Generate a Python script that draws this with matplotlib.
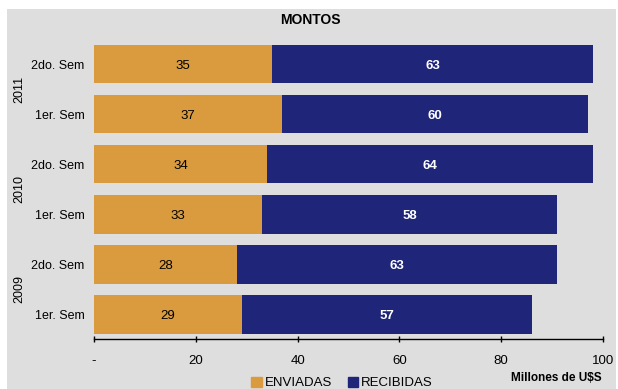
import matplotlib.pyplot as plt
import matplotlib.patches as mpatches
import numpy as np

plt.rcParams['font.family'] = ['Liberation Sans Narrow', 'Liberation Sans', 'DejaVu Sans']

# semesters from bottom (2009 1er) to top (2011 2do)
semestres = ['1er. Sem', '2do. Sem', '1er. Sem', '2do. Sem', '1er. Sem', '2do. Sem']
anios = ['2009', '2010', '2011']
enviadas = [29, 28, 33, 34, 37, 35]
recibidas = [57, 63, 58, 64, 60, 63]
xticks = [0, 20, 40, 60, 80, 100]
xticklabels = ['-', '20', '40', '60', '80', '100']

c_env = '#D99B3E'
c_rec = '#1F2679'
bg = '#DEDEDE'

fig = plt.figure(figsize=(6.18, 3.89), dpi=100)
fig.patch.set_facecolor('white')
# grey panel behind everything
fig.patches.append(mpatches.Rectangle((7/618, 0), 609/618, 380/389,
                                      transform=fig.transFigure,
                                      facecolor=bg, edgecolor='none', zorder=-1))

ax = fig.add_axes([94/618, 50/389, 509/618, 299/389])
ax.set_facecolor(bg)

y = np.arange(len(semestres))
ax.barh(y, enviadas, height=0.77, color=c_env)
ax.barh(y, recibidas, left=enviadas, height=0.77, color=c_rec)

for i in range(len(y)):
    ax.text(enviadas[i] / 2, y[i] - 0.03, str(enviadas[i]), ha='center', va='center',
            fontsize=9.5, color='black')
    ax.text(enviadas[i] + recibidas[i] / 2, y[i] - 0.03, str(recibidas[i]), ha='center',
            va='center', fontsize=9.5, color='white', fontweight='bold')

ax.set_xlim(0, 100)
ax.set_ylim(-0.49, 5.48)
ax.set_xticks(xticks)
ax.set_xticklabels(xticklabels, fontsize=9.5)
ax.set_yticks(y)
ax.set_yticklabels(semestres, fontsize=9)
ax.tick_params(axis='y', length=0, pad=7)
ax.tick_params(axis='x', direction='inout', length=5, width=1, pad=9)
for s in ['top', 'right', 'left']:
    ax.spines[s].set_visible(False)
ax.spines['bottom'].set_linewidth(1)

# year labels next to each pair of semesters
ytr = ax.get_yaxis_transform()
for k, a in enumerate(anios):
    ax.text((19 - 94) / 509, 2 * k + 0.5, a, transform=ytr, rotation=90,
            ha='center', va='center', fontsize=9)

fig.text(310/618, 1 - 20/389, 'MONTOS', ha='center', va='center',
         fontsize=10, fontweight='bold')
fig.text(602/618, 1 - 378/389, 'Millones de U$S', ha='right', va='center',
         fontsize=8.5, fontweight='bold')

handles = [mpatches.Patch(color=c_env, label='ENVIADAS'),
           mpatches.Patch(color=c_rec, label='RECIBIDAS')]
fig.legend(handles=handles, loc='center', bbox_to_anchor=(342/618, 1 - 383/389),
           ncol=2, frameon=False, fontsize=9.5, handlelength=0.8, handleheight=0.8,
           handletextpad=0.2, columnspacing=1.2, borderpad=0)

fig.savefig('out.png', dpi=100, facecolor=fig.get_facecolor())
